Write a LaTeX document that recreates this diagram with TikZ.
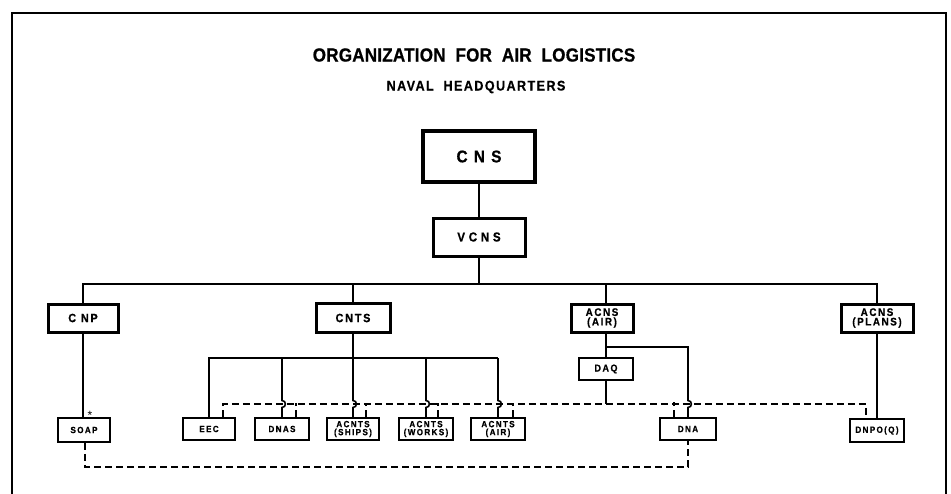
\documentclass[tikz,border=0pt]{standalone}
\usepackage{fontspec}
\setmainfont{Liberation Sans}
\newfontfamily\lett[FakeStretch=0.9,FakeBold=0.6]{Liberation Sans}
\usetikzlibrary{calc}
\tikzset{
  ln/.style={line width=1.6pt},
  dl/.style={line width=1.6pt, dash pattern=on 7pt off 4pt},
  thickbox/.style={draw, line width=3pt, inner sep=0pt, align=center},
  thinbox/.style={draw, line width=1.6pt, inner sep=0pt, align=center},
  lowbox/.style={thinbox, minimum height=22pt,
    font=\lett\bfseries\fontsize{9}{8}\selectfont\addfontfeature{LetterSpace=15}},
}
\begin{document}
\begin{tikzpicture}[x=1pt,y=-1pt]
\useasboundingbox (0,0) rectangle (951,493);
% frame
\draw[line width=2pt] (12,500) -- (12,13) -- (946,13) -- (946,500);
% titles
\node (title) at (474,55) {\lett\bfseries\fontsize{19}{19}\selectfont\addfontfeature{LetterSpace=1}ORGANIZATION\ \ FOR\ \ AIR\ \ LOGISTICS};
\node (sub) at (476,87) {\lett\bfseries\fontsize{14}{14}\selectfont\addfontfeature{LetterSpace=10}NAVAL\ \ HEADQUARTERS};
% top boxes
\node[thickbox, line width=3.5pt, minimum width=112pt, minimum height=51pt,
  font=\lett\bfseries\fontsize{17}{17}\selectfont\addfontfeature{LetterSpace=12}] (cns) at (479,156.5) {C N S};
\node[thickbox, minimum width=92pt, minimum height=38pt,
  font=\lett\bfseries\fontsize{13}{13}\selectfont\addfontfeature{LetterSpace=28}] (vcns) at (479,237) {VCNS};
% second level
\tikzset{midfont/.style={font=\lett\bfseries\fontsize{12}{12}\selectfont\addfontfeature{LetterSpace=15}}}
\tikzset{twofont/.style={font=\lett\bfseries\fontsize{11}{9.5}\selectfont\addfontfeature{LetterSpace=14}}}
\node[thickbox, midfont, minimum width=70pt, minimum height=28pt] (cnp) at (83,318) {C NP};
\node[thickbox, midfont, minimum width=74pt, minimum height=29pt] (cnts) at (353,318) {CNTS};
\node[thickbox, twofont, minimum width=62pt, minimum height=28pt] (acair) at (602,318) {ACNS\\(AIR)};
\node[thickbox, twofont, minimum width=72pt, minimum height=28pt] (plans) at (877,318) {ACNS\\(PLANS)};
\node[thinbox, font=\lett\bfseries\fontsize{10}{10}\selectfont\addfontfeature{LetterSpace=15},
  minimum width=54pt, minimum height=22pt] (daq) at (606,369) {DAQ};
% bottom row
\node[lowbox, minimum width=52pt, minimum height=24pt] (soap) at (84,430) {SOAP};
\node[lowbox, minimum width=52pt] (eec) at (209,429) {EEC};
\node[lowbox, minimum width=54pt] (dnas) at (282,429) {DNAS};
\node[lowbox, minimum width=52pt] (ships) at (353,429) {ACNTS\\(SHIPS)};
\node[lowbox, minimum width=54pt] (works) at (426,429) {ACNTS\\(WORKS)};
\node[lowbox, minimum width=54pt] (air) at (498,429) {ACNTS\\(AIR)};
\node[lowbox, minimum width=56pt] (dna) at (688,429) {DNA};
\node[lowbox, minimum width=54pt, minimum height=23pt] (dnpo) at (877,430.5) {DNPO(Q)};
\node[font=\fontsize{12}{12}\selectfont] (star) at (90,415) {*};
% helper levels
\coordinate (bus) at (0,284);
\coordinate (bus2) at (0,358);
\coordinate (br) at (0,347);
\coordinate (dlc) at (0,404);
\coordinate (vair) at (606,0);
% solid connectors
\draw[ln] (cns.south) -- (vcns.north);
\draw[ln] (vcns.south) -- (vcns.south |- bus);
\draw[ln] (cnp.north) -- (cnp.north |- bus) -- (plans.north |- bus) -- (plans.north);
\draw[ln] (cnts.north) -- (cnts.north |- bus);
\draw[ln] (vair |- acair.north) -- (vair |- bus);
\draw[ln] (cnp.south) -- (cnp.south |- soap.north);
\draw[ln] (cnts.south) -- (cnts.south |- bus2);
\draw[ln] (eec.north) -- (eec.north |- bus2) -- (air.north |- bus2);
\foreach \n in {dnas,ships,works,air}{
  \draw[ln] (\n.north |- bus2) -- ($(\n.north |- dlc)+(0,-3.5)$)
    .. controls +(4.5,0) and +(4.5,0) .. ($(\n.north |- dlc)+(0,3.5)$) -- (\n.north);
}
\draw[ln] (vair |- acair.south) -- (vair |- daq.north);
\draw[ln] (vair |- br) -- (dna.north |- br) -- ($(dna.north |- dlc)+(0,-3.5)$)
    .. controls +(4.5,0) and +(4.5,0) .. ($(dna.north |- dlc)+(0,3.5)$) -- (dna.north);
\draw[ln] (daq.south) -- (daq.south |- dlc);
\draw[ln] (plans.south) -- (plans.south |- dnpo.north);
% dashed connectors
\coordinate (eecd) at ($(eec.north)+(14,0)$);
\coordinate (dnpod) at ($(dnpo.north)+(-11,0)$);
\draw[dl] (eecd) -- (eecd |- dlc) -- (dnpod |- dlc) -- (dnpod);
\draw[dl] ($(dnas.north)+(14,0)$) -- ++(0,-14);
\draw[dl] ($(ships.north)+(13,0)$) -- ++(0,-14);
\draw[dl] ($(works.north)+(12,0)$) -- ++(0,-14);
\draw[dl] ($(air.north)+(15,0)$) -- ++(0,-14);
\draw[dl] ($(dna.north)+(-14,0)$) -- ++(0,-15);
\draw[dl] ($(soap.south)+(1,0)$) -- ++(0,24) -| (dna.south);
\end{tikzpicture}
\end{document}
